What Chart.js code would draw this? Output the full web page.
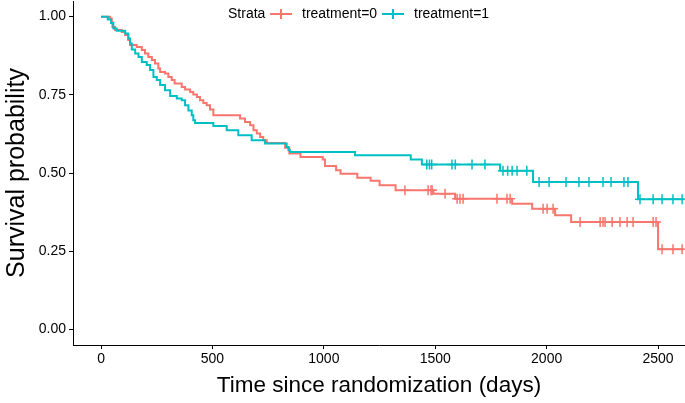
<!DOCTYPE html>
<html>
<head>
<meta charset="utf-8">
<script src="https://cdn.jsdelivr.net/npm/chart.js@4.4.1/dist/chart.umd.min.js"></script>
<style>
  html, body { margin: 0; padding: 0; background: #fff; }
  #wrap { width: 685px; height: 403px; }
</style>
</head>
<body>
<div id="wrap"><canvas id="kmChart" width="685" height="403"></canvas></div>
<script>
// treatment=0 : event times (days) and survival after each step
const timeTrt0 = [0, 40, 48, 51, 63, 93, 108, 122, 130, 160, 183, 197, 212, 228, 242, 257, 265, 287, 302, 317,
  330, 362, 377, 400, 414, 430, 444, 459, 474, 489, 504, 624, 646, 669, 684, 699, 714, 728, 744, 826,
  845, 895, 995, 1005, 1055, 1075, 1150, 1210, 1250, 1322, 1492, 1589, 1845, 1935, 2038, 2110, 2500, 2615];
const survTrt0 = [1.000, 0.994, 0.983, 0.967, 0.957, 0.951, 0.941, 0.925, 0.909, 0.903, 0.893, 0.882, 0.871, 0.861, 0.850, 0.834, 0.823, 0.818, 0.807, 0.797,
  0.786, 0.775, 0.767, 0.759, 0.751, 0.743, 0.733, 0.724, 0.717, 0.703, 0.685, 0.674, 0.663, 0.653, 0.637, 0.626, 0.615, 0.605, 0.596, 0.581,
  0.562, 0.551, 0.543, 0.522, 0.509, 0.498, 0.485, 0.475, 0.461, 0.445, 0.434, 0.418, 0.402, 0.386, 0.365, 0.343, 0.256, 0.256];

// treatment=1
const timeTrt1 = [0, 30, 45, 55, 70, 108, 122, 130, 138, 153, 168, 183, 205, 220, 235, 250, 265, 287, 310, 340,
  362, 377, 392, 407, 414, 422, 504, 564, 616, 676, 736, 833, 841, 848, 1140, 1390, 1440, 1791, 1939, 2410, 2615];
const survTrt1 = [1.000, 0.991, 0.980, 0.962, 0.955, 0.946, 0.930, 0.914, 0.895, 0.882, 0.871, 0.855, 0.845, 0.829, 0.807, 0.797, 0.781, 0.765, 0.746, 0.738,
  0.733, 0.717, 0.700, 0.685, 0.669, 0.660, 0.650, 0.637, 0.621, 0.605, 0.594, 0.583, 0.573, 0.567, 0.557, 0.543, 0.527, 0.507, 0.471, 0.416, 0.416];

// censoring times
const censorTrt0 = [1364, 1468, 1481, 1486, 1544, 1598, 1611, 1625, 1777, 1822, 1836, 1984, 2002, 2029, 2150, 2240,
  2253, 2262, 2294, 2329, 2361, 2388, 2478, 2491, 2518, 2567, 2608];
const censorTrt1 = [1462, 1474, 1484, 1575, 1590, 1665, 1723, 1804, 1825, 1845, 1867, 1911, 1966, 2011, 2087, 2145,
  2190, 2253, 2289, 2347, 2365, 2419, 2478, 2518, 2567, 2608];

const xTicks = [0, 500, 1000, 1500, 2000, 2500];
const yTicks = [0, 0.25, 0.5, 0.75, 1];
const groupLabels = ['treatment=0', 'treatment=1'];
const groupColors = ['#F8766D', '#00BFC4'];

// survival value of the step curve at time t
function survAt(times, surv, t) {
  let s = surv[0];
  for (let i = 0; i < times.length; i++) {
    if (times[i] <= t) s = surv[i];
  }
  return s;
}

function curve(times, surv) {
  return times.map((t, i) => ({ x: t, y: surv[i] }));
}

function censorPoints(times, surv, cens) {
  return cens.map(t => ({ x: t, y: survAt(times, surv, t) }));
}

const FONT = '"Liberation Sans", Arial, sans-serif';

// ggsurvplot style legend drawn on top of the panel
const strataLegend = {
  id: 'strataLegend',
  afterDraw(chart) {
    const ctx = chart.ctx;
    const y = 14;
    ctx.save();
    ctx.font = '14px ' + FONT;
    ctx.fillStyle = '#000';
    ctx.textBaseline = 'middle';
    ctx.textAlign = 'left';
    ctx.fillText('Strata', 228, y);
    const keys = [270, 382];
    groupLabels.forEach((lab, i) => {
      const x0 = keys[i];
      ctx.strokeStyle = groupColors[i];
      ctx.lineWidth = 2;
      ctx.beginPath();
      ctx.moveTo(x0, y);
      ctx.lineTo(x0 + 22, y);
      ctx.moveTo(x0 + 11, y - 5);
      ctx.lineTo(x0 + 11, y + 5);
      ctx.stroke();
      ctx.fillText(lab, x0 + 32, y);
    });
    ctx.restore();
  }
};

const ctx = document.getElementById('kmChart').getContext('2d');
new Chart(ctx, {
  type: 'line',
  data: {
    datasets: [
      {
        label: groupLabels[1],
        data: curve(timeTrt1, survTrt1),
        borderColor: groupColors[1],
        borderWidth: 2,
        stepped: true,
        pointRadius: 0,
        fill: false,
        order: 0
      },
      {
        label: groupLabels[0],
        data: curve(timeTrt0, survTrt0),
        borderColor: groupColors[0],
        borderWidth: 2,
        stepped: true,
        pointRadius: 0,
        fill: false,
        order: 1
      },
      {
        label: groupLabels[1] + ' censor',
        data: censorPoints(timeTrt1, survTrt1, censorTrt1),
        showLine: false,
        pointStyle: 'cross',
        pointRadius: 5,
        pointBorderWidth: 1.5,
        pointBorderColor: groupColors[1],
        order: 0
      },
      {
        label: groupLabels[0] + ' censor',
        data: censorPoints(timeTrt0, survTrt0, censorTrt0),
        showLine: false,
        pointStyle: 'cross',
        pointRadius: 5,
        pointBorderWidth: 1.5,
        pointBorderColor: groupColors[0],
        order: 1
      }
    ]
  },
  options: {
    responsive: false,
    animation: false,
    parsing: false,
    layout: { autoPadding: false, padding: { top: 1, right: 0, left: 0, bottom: 0 } },
    plugins: {
      legend: { display: false },
      tooltip: { enabled: false }
    },
    scales: {
      x: {
        type: 'linear',
        min: -126,
        max: 2621,
        afterBuildTicks: axis => { axis.ticks = xTicks.map(v => ({ value: v })); },
        afterFit: axis => {
          axis.height = 58;
          axis.paddingLeft = 0;
          axis.paddingRight = 0;
        },
        grid: { drawOnChartArea: false, drawTicks: true, tickLength: 4, color: '#000' },
        border: { display: true, color: '#000', width: 1 },
        ticks: {
          color: '#000',
          font: { family: FONT, size: 14 },
          padding: 2,
          maxRotation: 0,
          callback: v => String(v)
        },
        title: {
          display: true,
          text: 'Time since randomization (days)',
          color: '#000',
          font: { family: FONT, size: 22.5 },
          padding: { top: 0, bottom: 4 }
        }
      },
      y: {
        type: 'linear',
        min: -0.05,
        max: 1.05,
        afterBuildTicks: axis => { axis.ticks = yTicks.map(v => ({ value: v })); },
        afterFit: axis => {
          axis.width = 73;
          axis.paddingTop = 0;
          axis.paddingBottom = 0;
        },
        grid: { drawOnChartArea: false, drawTicks: true, tickLength: 4, color: '#000' },
        border: { display: true, color: '#000', width: 1 },
        ticks: {
          color: '#000',
          font: { family: FONT, size: 14 },
          padding: 3,
          callback: v => v.toFixed(2)
        },
        title: {
          display: true,
          text: 'Survival probability',
          color: '#000',
          font: { family: FONT, size: 25 },
          padding: { top: 2, bottom: 0 }
        }
      }
    }
  },
  plugins: [strataLegend]
});
</script>
</body>
</html>
